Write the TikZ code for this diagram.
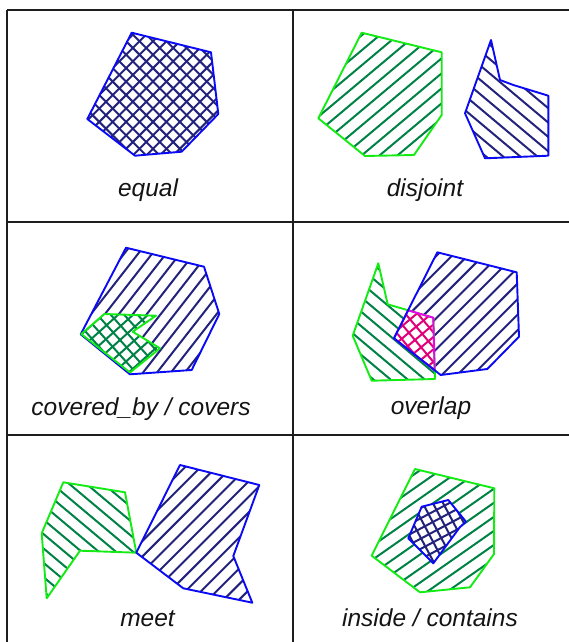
\documentclass[tikz,border=0pt]{standalone}
\usepackage{fontspec}
\setmainfont{Liberation Sans}
\usetikzlibrary{calc}
\definecolor{obl}{RGB}{10,10,245}
\definecolor{ogr}{RGB}{20,235,20}
\definecolor{hnavy}{RGB}{35,35,125}
\definecolor{hgreen}{RGB}{0,130,70}
\definecolor{omag}{RGB}{240,0,240}
\definecolor{hmag}{RGB}{225,0,120}
\definecolor{gridc}{RGB}{30,30,30}
\newcommand\hatchset[4]{%
  \foreach \k in {-16,...,16}{%
    \draw[#4,line width=2pt] ($#1+(#2+90:\k*#3pt)+(#2:220pt)$) -- ($#1+(#2+90:\k*#3pt)+(#2+180:220pt)$);
  }}
\tikzset{
  gridline/.style={gridc,line width=1.8pt},
  blueout/.style={obl,line width=1.9pt,line join=round},
  greenout/.style={ogr,line width=1.9pt,line join=round},
  magout/.style={omag,line width=1.9pt,line join=round},
  lbl/.style={anchor=base,font=\fontsize{24.5}{25}\selectfont\itshape,text=black!92,inner sep=0pt}
}
\begin{document}
\begin{tikzpicture}[x=1pt,y=-1pt]
\useasboundingbox (0,0) rectangle (569,642);
% grid
\coordinate (tl) at (7,10); \coordinate (tr) at (569,10);
\coordinate (bl) at (7,642); \coordinate (mt) at (293,10); \coordinate (mb) at (293,642);
\coordinate (h1l) at (7,222); \coordinate (h1r) at (569,222);
\coordinate (h2l) at (7,435); \coordinate (h2r) at (569,435);
\draw[gridline] (tl) -- (tr);
\draw[gridline] (tl) -- (bl);
\draw[gridline] (mt) -- (mb);
\draw[gridline] (h1l) -- (h1r);
\draw[gridline] (h2l) -- (h2r);

% ---- equal
\def\eqpoly{(131.7,32.7)--(211,52.3)--(218.3,114)--(181.7,151.7)--(135,155.7)--(87.3,119)--cycle}
\begin{scope}\clip \eqpoly;
  \hatchset{(153,95)}{45}{9.5}{hnavy}
  \hatchset{(153,95)}{-45}{9.5}{hnavy}
\end{scope}
\draw[blueout] \eqpoly;
\node[lbl] (equal) at (148,196.5) {equal};

% ---- disjoint
\def\djg{(361.7,32.7)--(441.7,52.3)--(441.7,115)--(414,155)--(365,156)--(318.3,118.3)--cycle}
\def\djb{(491,40)--(500,80)--(513.3,85)--(548.3,95.7)--(548.3,155.7)--(485,158.3)--(465,113.3)--cycle}
\begin{scope}\clip \djg; \hatchset{(380,95)}{40}{11.5}{hgreen} \end{scope}
\begin{scope}\clip \djb; \hatchset{(505,115)}{-40}{11}{hnavy} \end{scope}
\draw[greenout] \djg;
\draw[blueout] \djb;
\node[lbl] (disjoint) at (425,196.5) {disjoint};

% ---- covered_by / covers
\def\cvb{(126,247.7)--(204,266.7)--(219.3,314)--(191.7,370)--(130,374.3)--(80.7,334.3)--cycle}
\def\cvg{(104.3,314)--(156,315.7)--(132.7,331.7)--(160,348.3)--(130,372.5)--(81.3,334)--cycle}
\begin{scope}\clip \cvb; \hatchset{(150,310)}{52}{11}{hnavy} \end{scope}
\fill[white] \cvg;
\begin{scope}\clip \cvg;
  \hatchset{(120,340)}{42}{10}{hgreen}
  \hatchset{(120,340)}{-48}{10}{hgreen}
\end{scope}
\draw[blueout] \cvb;
\draw[greenout] \cvg;
\node[lbl] (covered) at (141,415) {covered\_by / covers};

% ---- overlap
\def\ovg{(378.3,263.3)--(387.7,304.3)--(433.3,317.7)--(435,379)--(371.7,380.7)--(352.7,335.7)--cycle}
\def\ovb{(437.3,252.3)--(516.7,272.3)--(519,336.7)--(487.3,369)--(440.7,375)--(394,338.3)--cycle}
\def\ovm{(408.1,310.3)--(433.3,317.7)--(434.6,370.1)--(394,338.3)--cycle}
\begin{scope}\clip \ovg; \hatchset{(400,330)}{-40}{11}{hgreen} \end{scope}
\begin{scope}\clip \ovb; \hatchset{(460,310)}{45}{11}{hnavy} \end{scope}
\fill[white] \ovm;
\begin{scope}\clip \ovm;
  \hatchset{(415,340)}{40}{9.5}{hmag}
  \hatchset{(415,340)}{-50}{9.5}{hmag}
\end{scope}
\draw[greenout] \ovg;
\draw[magout] \ovm;
\draw[blueout] \ovb;
\node[lbl] (overlap) at (431,414.5) {overlap};

% ---- meet
\def\mtg{(63.3,482.3)--(125,492.3)--(136.3,552.7)--(80,550.7)--(46.7,598.3)--(41.7,533.3)--cycle}
\def\mtb{(180,465)--(259.3,485)--(233.3,556)--(252.3,602.7)--(183.3,588.3)--(136.3,552.7)--cycle}
\begin{scope}\clip \mtg; \hatchset{(90,530)}{-40}{11}{hgreen} \end{scope}
\begin{scope}\clip \mtb; \hatchset{(200,530)}{45}{11}{hnavy} \end{scope}
\draw[greenout] \mtg;
\draw[blueout] \mtb;
\node[lbl] (meet) at (147.5,626.5) {meet};

% ---- inside / contains
\def\ing{(415,469)--(494.3,488.3)--(494,554)--(470,587.3)--(420,592.3)--(371.7,555.7)--cycle}
\def\inb{(421.7,506.7)--(448.3,500)--(466,521.7)--(460,527)--(433.3,563.3)--(408.3,538.3)--cycle}
\begin{scope}\clip \ing; \hatchset{(435,530)}{35}{11.5}{hgreen} \end{scope}
\fill[white] \inb;
\begin{scope}\clip \inb;
  \hatchset{(437,530)}{28}{9}{hnavy}
  \hatchset{(437,530)}{-62}{9}{hnavy}
\end{scope}
\draw[greenout] \ing;
\draw[blueout] \inb;
\node[lbl] (inside) at (430,626.5) {inside / contains};
\end{tikzpicture}
\end{document}
